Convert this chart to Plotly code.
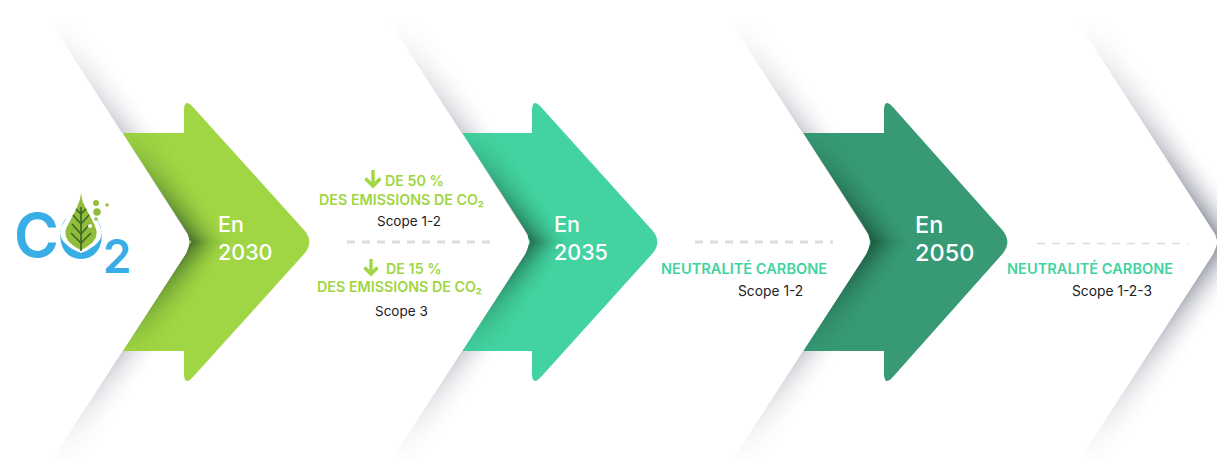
import numpy as np
import plotly.graph_objects as go

# ---- content -------------------------------------------------------------
years = ["2030", "2035", "2050"]
prefix = "En"
goal_2030 = ["DE 50 %", "DES EMISSIONS DE CO₂", "Scope 1-2", "DE 15 %", "DES EMISSIONS DE CO₂", "Scope 3"]
goal_2035 = ["NEUTRALITÉ CARBONE", "Scope 1-2"]
goal_2050 = ["NEUTRALITÉ CARBONE", "Scope 1-2-3"]
logo_letters = ["C", "O", "2"]

# ---- style ---------------------------------------------------------------
LIME = "#A0D643"
MINT = "#43D3A0"
DEEP = "#379A75"
BLUE = "#38ADE6"
LEAF = "#92BC3C"
VEIN = "#3F6A24"
DASH = "#D9DCE3"
INK = "#222222"
FONT = "Inter"
W, H = 1217, 459
MID = 242
SLOPE = 0.65


def rounded(points, radii, n=10):
    """Polyline with each vertex rounded by a quadratic curve of the given radius."""
    pts = [np.array(p, float) for p in points]
    out = []
    m = len(pts)
    for i, p in enumerate(pts):
        r = radii[i]
        if r == 0:
            out.append(p)
            continue
        a = pts[(i - 1) % m]
        b = pts[(i + 1) % m]
        p0 = p + (a - p) / np.linalg.norm(a - p) * r
        p1 = p + (b - p) / np.linalg.norm(b - p) * r
        for t in np.linspace(0, 1, n):
            out.append((1 - t) ** 2 * p0 + 2 * t * (1 - t) * p + t ** 2 * p1)
    return np.array(out)


def edge_x(tip, y):
    return tip - SLOPE * abs(y - MID)


fig = go.Figure()
shapes = []

# arrows (below the cast shadows)
arrow_geo = [(193.5, 184, 315, LIME), (533, 532, 663, MINT), (874, 884, 1013, DEEP)]
for tip, base, head, col in arrow_geo:
    pts = [(edge_x(tip, 133), 133), (base, 133), (base, 97), (head, MID), (base, 387), (base, 351),
           (edge_x(tip, 351), 351), (tip, MID)]
    poly = rounded(pts, [0, 0, 14, 17, 14, 0, 0, 16])
    path = "M" + " L".join(f"{x:.1f},{y:.1f}" for x, y in poly) + " Z"
    shapes.append(dict(type="path", path=path, fillcolor=col, line_width=0, layer="below"))

# cast shadows of the white chevrons: grey on the paper, dark green on the arrows
chevron_tips = [193.5, 533, 874, 1221]
xx, yy = np.meshgrid(np.arange(W) + 0.5, np.arange(H) + 0.5)
norm = np.hypot(1, SLOPE)
paper = np.zeros_like(xx)
body = np.zeros_like(xx)
inside = (yy > 133) & (yy < 351)
for tip in chevron_tips:
    dy = np.abs(yy - MID)
    dx = tip - xx
    s = (dy + SLOPE * dx) / norm          # along the edge, away from the tip
    d = (dy * SLOPE - dx) / norm          # perpendicular, away from the white side
    band = np.clip(1 - d / 32, 0, 1) ** 1.8 * (d > -2)
    fade = np.clip((262 - s) / 262, 0, 1) ** 1.1
    soft = np.clip(1 - s / 140, 0, 1) ** 1.1
    paper = np.maximum(paper, 0.52 * band * fade)
    if tip < 1200:
        body = np.maximum(body, 0.55 * band * soft)
    else:
        body = np.maximum(body, 0.52 * band * fade)
paper[inside & (xx < 1100)] = 0
body[~(inside & (xx < 1100))] = 0
fig.add_trace(go.Heatmap(x=xx[0], y=yy[:, 0], z=paper, zmin=0, zmax=1, showscale=False, hoverinfo="skip",
                         colorscale=[[0, "rgba(55,60,85,0)"], [1, "rgba(55,60,85,1)"]]))
fig.add_trace(go.Heatmap(x=xx[0], y=yy[:, 0], z=body, zmin=0, zmax=1, showscale=False, hoverinfo="skip",
                         colorscale=[[0, "rgba(10,45,25,0)"], [1, "rgba(10,45,25,1)"]]))

# crisp white strips along each chevron edge
for tip in chevron_tips:
    pts = [(edge_x(tip, -20), -20), (tip, MID), (edge_x(tip, 480), 480),
           (edge_x(tip, 480) - 14, 480), (tip - 14, MID), (edge_x(tip, -20) - 14, -20)]
    poly = rounded(pts, [0, 16, 0, 0, 12, 0])
    fig.add_trace(go.Scatter(x=poly[:, 0], y=poly[:, 1], mode="lines", fill="toself", fillcolor="white",
                             line=dict(width=0, color="white"), hoverinfo="skip"))


def label(x, y, text, size, color, weight=400, pos="middle right", family=FONT):
    fig.add_trace(go.Scatter(x=[x], y=[y], mode="text", text=[text], textposition=pos, hoverinfo="skip",
                             textfont=dict(family=family, size=size, color=color, weight=weight)))


# year labels
for (x, size), year in zip([(218, 21.5), (554, 21.5), (915, 23.5)], years):
    label(x, 227, prefix, size, "white", 500)
    label(x, 255, year, size, "white", 500)

# dashed separators
for x0, x1, y, lw, col in [(347, 490, 242, 2.8, DASH), (695, 833, 242, 2.8, DASH), (1037, 1188, 243.5, 1.7, DASH)]:
    fig.add_trace(go.Scatter(x=[x0, x1], y=[y, y], mode="lines", hoverinfo="skip",
                             line=dict(color=col, width=lw, dash="8px,7px")))

# down arrows
for cx, y0, y1, hw, lw in [(373, 170, 186, 7.5, 3.4), (371, 259, 274, 6.5, 3.4)]:
    fig.add_trace(go.Scatter(x=[cx, cx, None, cx - hw, cx, cx + hw], y=[y0, y1, None, y1 - hw, y1, y1 - hw],
                             mode="lines", hoverinfo="skip", line=dict(color=LIME, width=lw)))

# goal text
TS = 14.3
label(385, 182.5, goal_2030[0], TS, LIME, 600)
label(319, 201.5, goal_2030[1], TS, LIME, 600)
label(377, 222.5, goal_2030[2], 13.5, INK)
label(386, 270.5, goal_2030[3], TS, LIME, 600)
label(317, 288.5, goal_2030[4], TS, LIME, 600)
label(375, 312.5, goal_2030[5], 13.5, INK)
label(661, 270.5, goal_2035[0], 14.6, MINT, 600)
label(738, 292.5, goal_2035[1], 13.8, INK)
label(1007, 270.5, goal_2050[0], 14.6, MINT, 600)
label(1072, 292.5, goal_2050[1], 13.8, INK)

# logo: letters
label(36.5, 242, logo_letters[0], 61, BLUE, 600, "middle center")
label(81, 242, logo_letters[1], 62, BLUE, 600, "middle center")
label(117, 261, logo_letters[2], 46, BLUE, 600, "middle center")

# logo: leaf with white halo, veins and bubbles
t = np.linspace(0, 1, 30)
def leaf(cx, top, bottom, half):
    y = top + (bottom - top) * t
    w = half * np.sin(np.pi * t ** 1.7) ** 0.85 * (0.35 + 0.65 * t ** 0.6)
    return np.r_[cx - w, (cx + w)[::-1]], np.r_[y, y[::-1]]

hx, hy = leaf(81, 186, 253, 24)
lx, ly = leaf(81, 193, 250, 18)
fig.add_trace(go.Scatter(x=hx, y=hy, mode="lines", fill="toself", fillcolor="white", line_width=0, hoverinfo="skip"))
fig.add_trace(go.Scatter(x=lx, y=ly, mode="lines", fill="toself", fillcolor=LEAF, line_width=0, hoverinfo="skip"))
vx, vy = [81, 81], [207, 251]
for ya, yb, dx in [(214, 209, 5), (224, 215, 8), (234, 224, 9), (243, 233, 10)]:
    vx += [None, 81 - dx, 81, 81 + dx]
    vy += [None, yb, ya, yb]
fig.add_trace(go.Scatter(x=vx, y=vy, mode="lines", line=dict(color=VEIN, width=1.7), hoverinfo="skip"))
for x, y, d, col in [(96, 203, 6, LEAF), (97, 212, 7.5, LEAF), (96, 219, 3.5, LEAF), (107, 205, 3.5, LEAF),
                     (90, 226, 4, "white")]:
    fig.add_trace(go.Scatter(x=[x], y=[y], mode="markers", hoverinfo="skip",
                             marker=dict(size=d, color=col, line_width=0)))

fig.update_layout(
    width=W, height=H, margin=dict(l=0, r=0, t=0, b=0), showlegend=False,
    paper_bgcolor="white", plot_bgcolor="white", shapes=shapes, hovermode=False,
    xaxis=dict(range=[0, W], visible=False, fixedrange=True),
    yaxis=dict(range=[H, 0], visible=False, fixedrange=True),
)
fig.write_html("out.html", config=dict(displayModeBar=False),
               post_script="document.body.style.margin='0';document.body.style.overflow='hidden';")
